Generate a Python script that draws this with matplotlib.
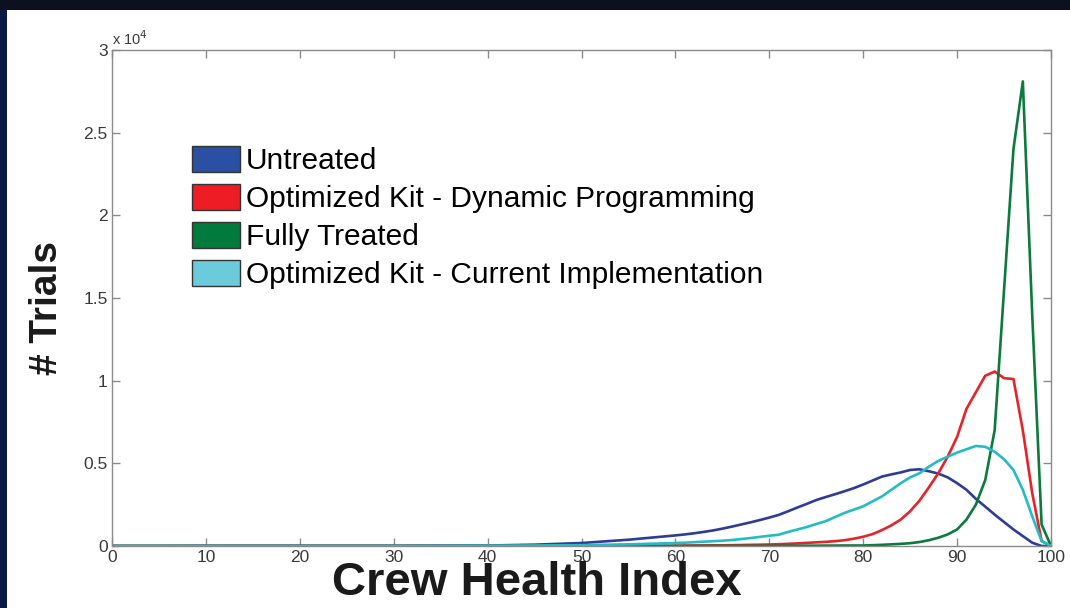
import matplotlib as mpl
import matplotlib.pyplot as plt
from matplotlib.patches import Patch, Rectangle

mpl.rcParams['font.family'] = ['Liberation Sans', 'DejaVu Sans']

#######
# Histogram counts per crew health index bin

health = [0, 5, 10, 15, 20, 25, 30, 35, 40, 45, 50, 55,
          60, 61, 62, 63, 64, 65, 66, 67, 68, 69,
          70, 71, 72, 73, 74, 75, 76, 77, 78, 79,
          80, 81, 82, 83, 84, 85, 86, 87, 88, 89,
          90, 91, 92, 93, 94, 95, 96, 97, 98, 99, 100]

untreated = [0, 0, 10, 10, 10, 10, 10, 20, 30, 80, 180, 380,
             640, 700, 770, 850, 940, 1050, 1170, 1300, 1430, 1570,
             1720, 1880, 2100, 2330, 2550, 2780, 2960, 3130, 3310, 3500,
             3720, 3960, 4200, 4330, 4450, 4600, 4640, 4520, 4380, 4150,
             3800, 3400, 2850, 2380, 1900, 1450, 1000, 600, 200, 0, 0]

dyn_prog = [0, 0, 0, 0, 0, 0, 0, 0, 0, 5, 10, 15,
            20, 25, 30, 35, 40, 45, 50, 60, 70, 80,
            90, 110, 130, 160, 190, 220, 250, 290, 350, 440,
            560, 720, 960, 1250, 1600, 2100, 2750, 3550, 4400, 5400,
            6600, 8300, 9300, 10300, 10550, 10150, 10100, 7000, 3200, 300, 0]

fully_treated = [0, 0, 0, 0, 0, 0, 0, 0, 0, 0, 0, 0,
                 5, 5, 5, 5, 5, 10, 10, 10, 10, 15,
                 15, 15, 20, 20, 20, 20, 25, 25, 30, 30,
                 30, 50, 70, 100, 130, 170, 240, 350, 500, 700,
                 1000, 1600, 2500, 4000, 7000, 15500, 24000, 28100, 14000, 1300, 0]

current_impl = [0, 0, 0, 0, 0, 0, 0, 10, 20, 30, 50, 100,
                180, 200, 230, 260, 290, 320, 360, 420, 480, 550,
                620, 680, 850, 1000, 1150, 1330, 1500, 1750, 2000, 2200,
                2400, 2700, 3000, 3400, 3800, 4150, 4400, 4800, 5150, 5400,
                5650, 5850, 6050, 6000, 5700, 5250, 4600, 3400, 1800, 300, 0]

labels = ["Untreated",
          "Optimized Kit - Dynamic Programming",
          "Fully Treated",
          "Optimized Kit - Current Implementation"]
line_colors = ["#2E3C96", "#E5232B", "#0B7A3C", "#23BCC4"]
patch_colors = ["#2B4FA3", "#EE1C25", "#007A3D", "#6CCBDA"]

xticks = [0, 10, 20, 30, 40, 50, 60, 70, 80, 90, 100]
yticks = [0, 5000, 10000, 15000, 20000, 25000, 30000]
ytick_labels = ["0", "0.5", "1", "1.5", "2", "2.5", "3"]

#######
# Plot

fig = plt.figure(figsize=(10.7, 6.08), dpi=100, facecolor="white")

# slide frame around the chart
fig.patches.append(Rectangle((0, 0), 7 / 1070, 1, transform=fig.transFigure,
                             facecolor="#0B1A45", edgecolor="none", zorder=0))
fig.patches.append(Rectangle((0, 1 - 10 / 608), 1, 10 / 608, transform=fig.transFigure,
                             facecolor="#0D101E", edgecolor="none", zorder=0))

ax = fig.add_axes([112 / 1070, 62 / 608, 939 / 1070, 496 / 608])

series = [untreated, dyn_prog, fully_treated, current_impl]
for vals, c in zip(series, line_colors):
    ax.plot(health, vals, color=c, linewidth=1.9)

ax.set_xlim(0, 100)
ax.set_ylim(0, 30000)
ax.set_xticks(xticks)
ax.set_xticklabels([str(t) for t in xticks])
ax.set_yticks(yticks)
ax.set_yticklabels(ytick_labels)

for s in ax.spines.values():
    s.set_color("#8A8A8A")
    s.set_linewidth(1.0)
ax.tick_params(direction="in", length=6, width=1, color="#8A8A8A",
               labelcolor="#3A3A3A", labelsize=12.5, top=True, right=True, pad=3)

ax.text(0.0, 1.004, r"x 10$^4$", transform=ax.transAxes, fontsize=10.5,
        color="#3A3A3A", ha="left", va="bottom")

handles = [Patch(facecolor=c, edgecolor="#333333", linewidth=1) for c in patch_colors]
ax.legend(handles, labels, loc="upper left", bbox_to_anchor=(192 / 1070, 1 - 146 / 608),
          bbox_transform=fig.transFigure, frameon=False, fontsize=21.5,
          handlelength=1.6, handleheight=0.95, handletextpad=0.2,
          labelspacing=0.3, borderpad=0, borderaxespad=0)

# big slide-style axis titles, placed on the figure
fig.text(537 / 1070, 1 - 583 / 608, "Crew Health Index", ha="center", va="center",
         fontsize=34, fontweight="bold", color="#1A1A1A")
fig.text(47 / 1070, 1 - 308 / 608, "# Trials", ha="center", va="center",
         rotation=90, fontsize=28, fontweight="bold", color="#1A1A1A")

fig.savefig("out.png", dpi=100, facecolor=fig.get_facecolor())
